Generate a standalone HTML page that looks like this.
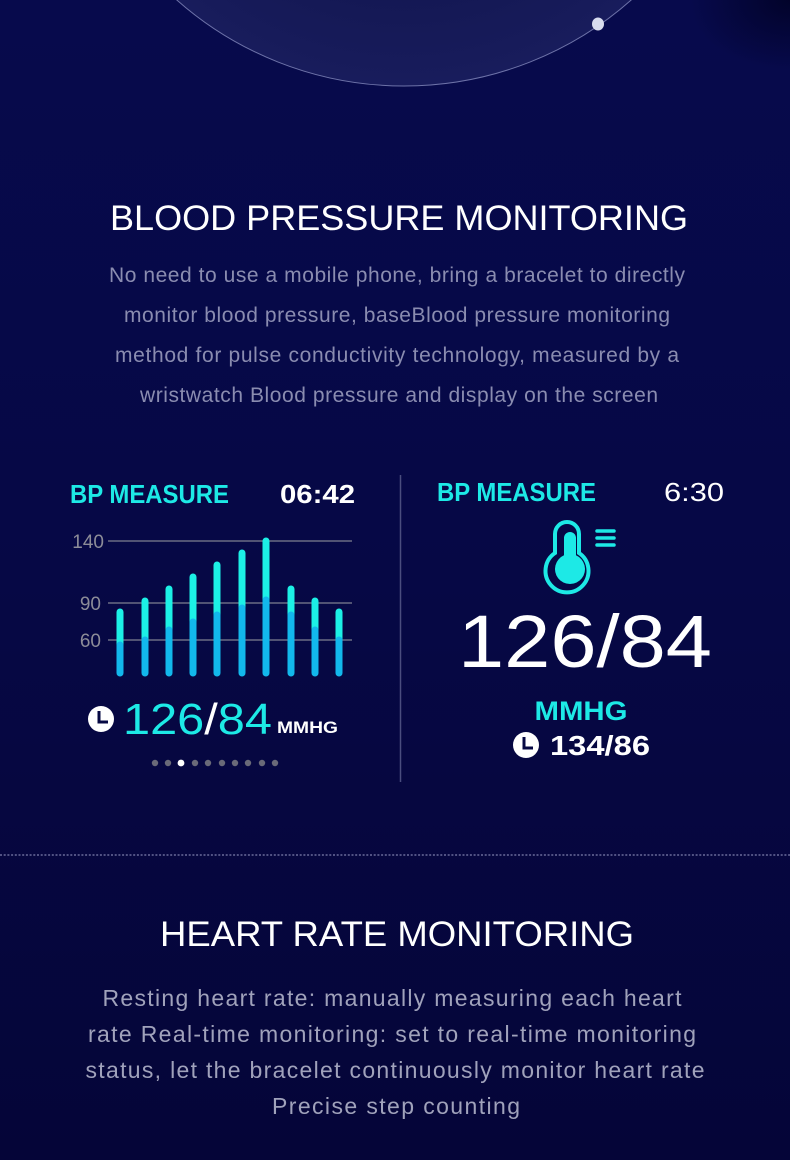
<!DOCTYPE html>
<html><head><meta charset="utf-8"><style>
html,body{margin:0;padding:0;background:#060843}
svg{display:block}
</style></head><body>
<svg width="790" height="1160" xmlns="http://www.w3.org/2000/svg" font-family="Liberation Sans, sans-serif">
<defs>
<linearGradient id="bg" x1="0" y1="0" x2="0" y2="1">
<stop offset="0" stop-color="#070a4c"/><stop offset="0.5" stop-color="#060845"/><stop offset="1" stop-color="#050538"/>
</linearGradient>
<radialGradient id="disc" cx="0.5" cy="0.5" r="0.5">
<stop offset="0.6" stop-color="#121650"/><stop offset="1" stop-color="#181c5c"/>
</radialGradient>
<radialGradient id="corner" cx="1" cy="0" r="0.5">
<stop offset="0" stop-color="#02032a"/><stop offset="1" stop-color="#02032a" stop-opacity="0"/>
</radialGradient>
</defs>
<rect width="790" height="1160" fill="url(#bg)"/>
<rect x="590" y="0" width="200" height="140" fill="url(#corner)"/>
<circle cx="404" cy="-257" r="343" fill="url(#disc)" stroke="#6d72a8" stroke-width="1"/>
<ellipse cx="598" cy="24" rx="6" ry="6.5" fill="#d8dcee"/>

<text x="399" y="230" fill="#fff" font-size="35" text-anchor="middle" textLength="578" lengthAdjust="spacingAndGlyphs">BLOOD PRESSURE MONITORING</text>
<g fill="#8a8cb0" font-size="21" text-anchor="middle" lengthAdjust="spacingAndGlyphs">
<text x="397" y="282" textLength="576">No need to use a mobile phone, bring a bracelet to directly</text>
<text x="397" y="322" textLength="546">monitor blood pressure, baseBlood pressure monitoring</text>
<text x="397" y="362" textLength="564">method for pulse conductivity technology, measured by a</text>
<text x="399" y="402" textLength="518">wristwatch Blood pressure and display on the screen</text>
</g>

<line x1="400.5" y1="475" x2="400.5" y2="782" stroke="#4a4d7e" stroke-width="1.5"/>

<!-- left panel -->
<text x="70" y="503" fill="#1de9e6" font-size="26" font-weight="bold" textLength="159" lengthAdjust="spacingAndGlyphs">BP MEASURE</text>
<text x="280" y="503" fill="#fff" font-size="26" font-weight="bold" textLength="75" lengthAdjust="spacingAndGlyphs">06:42</text>
<g stroke="#6a6c84" stroke-width="1.5">
<line x1="108" y1="541" x2="352" y2="541"/>
<line x1="108" y1="603" x2="352" y2="603"/>
<line x1="108" y1="640" x2="352" y2="640"/>
</g>
<g fill="#8c8c98" font-size="19" text-anchor="end">
<text x="104" y="548">140</text><text x="101" y="610">90</text><text x="101" y="647">60</text>
</g>
<g stroke-linecap="round" stroke-width="7">
<g stroke="#1cf0e6">
<line x1="120" y1="612" x2="120" y2="645"/>
<line x1="145" y1="601" x2="145" y2="640"/>
<line x1="169" y1="589" x2="169" y2="630"/>
<line x1="193" y1="577" x2="193" y2="622"/>
<line x1="217" y1="565" x2="217" y2="615"/>
<line x1="242" y1="553" x2="242" y2="608"/>
<line x1="266" y1="541" x2="266" y2="600"/>
<line x1="291" y1="589" x2="291" y2="615"/>
<line x1="315" y1="601" x2="315" y2="630"/>
<line x1="339" y1="612" x2="339" y2="640"/>
</g>
<g stroke="#12b8ec">
<line x1="120" y1="645" x2="120" y2="673"/>
<line x1="145" y1="640" x2="145" y2="673"/>
<line x1="169" y1="630" x2="169" y2="673"/>
<line x1="193" y1="622" x2="193" y2="673"/>
<line x1="217" y1="615" x2="217" y2="673"/>
<line x1="242" y1="608" x2="242" y2="673"/>
<line x1="266" y1="600" x2="266" y2="673"/>
<line x1="291" y1="615" x2="291" y2="673"/>
<line x1="315" y1="630" x2="315" y2="673"/>
<line x1="339" y1="640" x2="339" y2="673"/>
</g>
</g>
<circle cx="101" cy="719" r="13" fill="#fff"/>
<path d="M99 711 V722 H108" stroke="#060843" stroke-width="3" fill="none"/>
<text x="123" y="734" font-size="44" textLength="149" lengthAdjust="spacingAndGlyphs"><tspan fill="#1de9e6">126</tspan><tspan fill="#fff">/</tspan><tspan fill="#1de9e6">84</tspan></text>
<text x="277" y="733" fill="#fff" font-size="17" font-weight="bold" textLength="61" lengthAdjust="spacingAndGlyphs">MMHG</text>
<g fill="#6a6a78">
<circle cx="155" cy="763" r="3.2"/><circle cx="168" cy="763" r="3.2"/><circle cx="195" cy="763" r="3.2"/><circle cx="208" cy="763" r="3.2"/><circle cx="222" cy="763" r="3.2"/><circle cx="235" cy="763" r="3.2"/><circle cx="248" cy="763" r="3.2"/><circle cx="262" cy="763" r="3.2"/><circle cx="275" cy="763" r="3.2"/>
</g>
<circle cx="181" cy="763" r="3.4" fill="#fff"/>

<!-- right panel -->
<text x="437" y="501" fill="#1de9e6" font-size="26" font-weight="bold" textLength="159" lengthAdjust="spacingAndGlyphs">BP MEASURE</text>
<text x="664" y="501" fill="#fff" font-size="26" textLength="60" lengthAdjust="spacingAndGlyphs">6:30</text>
<path d="M555 553 V534 a12 12 0 0 1 24 0 V553 A21.5 21.5 0 1 1 555 553 Z" fill="none" stroke="#1de9e6" stroke-width="4"/>
<path d="M564 555.3 V538 a6 6 0 0 1 12 0 V555.3 A15 15 0 1 1 564 555.3 Z" fill="#1de9e6"/>
<g stroke="#1de9e6" stroke-width="3.5" stroke-linecap="round">
<line x1="597" y1="531" x2="614" y2="531"/><line x1="597" y1="538" x2="614" y2="538"/><line x1="597" y1="545" x2="614" y2="545"/>
</g>
<text x="585" y="667" fill="#fff" font-size="74" text-anchor="middle" textLength="254" lengthAdjust="spacingAndGlyphs">126/84</text>
<text x="581" y="720" fill="#1de9e6" font-size="27" font-weight="bold" text-anchor="middle" textLength="93" lengthAdjust="spacingAndGlyphs">MMHG</text>
<circle cx="526" cy="745" r="13" fill="#fff"/>
<path d="M524 737 V748 H533" stroke="#060843" stroke-width="3" fill="none"/>
<text x="550" y="755" fill="#fff" font-size="28" font-weight="bold" textLength="100" lengthAdjust="spacingAndGlyphs">134/86</text>

<line x1="0" y1="855" x2="790" y2="855" stroke="#6a6c9a" stroke-width="1.5" stroke-dasharray="2 1.7"/>

<text x="397" y="946" fill="#fff" font-size="35" text-anchor="middle" textLength="474" lengthAdjust="spacingAndGlyphs">HEART RATE MONITORING</text>
<g fill="#a0a2bb" font-size="23" text-anchor="middle" lengthAdjust="spacingAndGlyphs">
<text x="392" y="1006" textLength="579">Resting heart rate: manually measuring each heart</text>
<text x="392" y="1042" textLength="608">rate Real-time monitoring: set to real-time monitoring</text>
<text x="395" y="1078" textLength="619">status, let the bracelet continuously monitor heart rate</text>
<text x="396" y="1114" textLength="248">Precise step counting</text>
</g>
</svg>
</body></html>
